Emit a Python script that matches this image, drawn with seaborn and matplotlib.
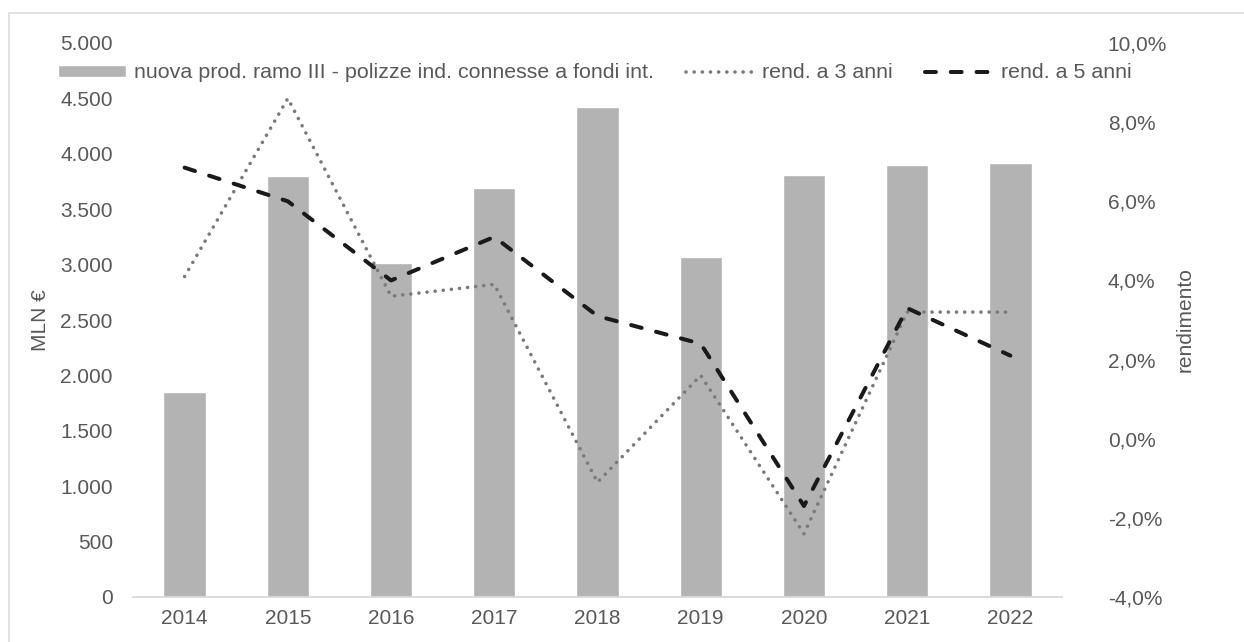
import matplotlib
matplotlib.use("Agg")
import matplotlib.pyplot as plt
import matplotlib.patches as mpatches
import seaborn as sns
import numpy as np
import pandas as pd

# Dati
anni = ["2014", "2015", "2016", "2017", "2018", "2019", "2020", "2021", "2022"]
nuova_prod = [1850, 3800, 3010, 3690, 4420, 3070, 3810, 3900, 3920]   # MLN €
rend_3_anni = [4.1, 8.6, 3.6, 3.9, -1.1, 1.6, -2.4, 3.2, 3.2]        # %
rend_5_anni = [6.85, 6.0, 4.0, 5.1, 3.1, 2.4, -1.7, 3.3, 2.1]        # %

lab_bar = "nuova prod. ramo III - polizze ind. connesse a fondi int."
lab_3 = "rend. a 3 anni"
lab_5 = "rend. a 5 anni"

sns.set_theme(style="white")
plt.rcParams["font.family"] = ["Liberation Sans", "DejaVu Sans"]
testo = "#595959"

df = pd.DataFrame({"anno": anni, "prod": nuova_prod,
                   "r3": rend_3_anni, "r5": rend_5_anni})
pos = np.arange(len(df))

fig = plt.figure(figsize=(12.44, 6.42), dpi=100)
ax = fig.add_axes([133 / 1244, 1 - 597 / 642, 929 / 1244, 554 / 642])
ax2 = ax.twinx()

# barre
sns.barplot(data=df, x="anno", y="prod", color="#b3b3b3", saturation=1,
            width=0.41, ax=ax)
ax.set_ylim(0, 5000)
ax.set_yticks(np.arange(0, 5001, 500))
ax.set_yticklabels([f"{int(v):,}".replace(",", ".") for v in np.arange(0, 5001, 500)])
ax.set_xlim(-0.5, len(anni) - 0.5)

# linee rendimento
sns.lineplot(x=pos, y=df["r3"], ax=ax2, color="#7a7a7a", lw=2.6,
             linestyle=(0, (0.01, 2.25)), dash_capstyle="round", legend=False)
sns.lineplot(x=pos, y=df["r5"], ax=ax2, color="#1a1a1a", lw=2.9,
             linestyle=(0, (2.7, 3.7)), dash_capstyle="round", legend=False)
ax2.set_ylim(-4, 10)
ax2.set_yticks(np.arange(-4, 10.1, 2))
ax2.set_yticklabels([f"{v:.1f}%".replace(".", ",") for v in np.arange(-4, 10.1, 2)])

# assi e testi
for a in (ax, ax2):
    for s in a.spines.values():
        s.set_visible(False)
    a.grid(False)
    a.set_xlabel("")
ax.spines["bottom"].set_visible(True)
ax.spines["bottom"].set_color("#d9d9d9")
ax.spines["bottom"].set_linewidth(1.3)

ax.tick_params(axis="x", length=0, pad=9, labelsize=15, labelcolor=testo)
ax.tick_params(axis="y", length=0, pad=14.5, labelsize=15, labelcolor=testo)
ax2.tick_params(axis="y", length=0, pad=33, labelsize=15, labelcolor=testo)

ax.set_ylabel("MLN €", fontsize=15, color=testo, va="center")
ax.yaxis.set_label_coords((41 - 133) / 929, 0.5)
ax2.set_ylabel("rendimento", fontsize=15, color=testo, va="center", rotation=90)
ax2.yaxis.set_label_coords((1185 - 133) / 929, 0.5)

# legenda
handles = [ax.containers[0]] + ax2.lines[:2]
labels = [lab_bar, lab_3, lab_5]
fig.legend(handles, labels, loc="center left",
           bbox_to_anchor=(58 / 1244, 1 - 73 / 642), bbox_transform=fig.transFigure,
           ncol=3, frameon=False, fontsize=15.4, labelcolor=testo,
           handlelength=3.2, handleheight=0.52, handletextpad=0.35,
           columnspacing=1.5, borderpad=0, borderaxespad=0)

# cornice esterna
fig.patches.append(mpatches.Rectangle((9 / 1244, -0.1), 1.2, 1.1 - 13 / 642,
                                      transform=fig.transFigure, fill=False,
                                      edgecolor="#d9d9d9", lw=1.1))

fig.savefig("out.png", dpi=100)
